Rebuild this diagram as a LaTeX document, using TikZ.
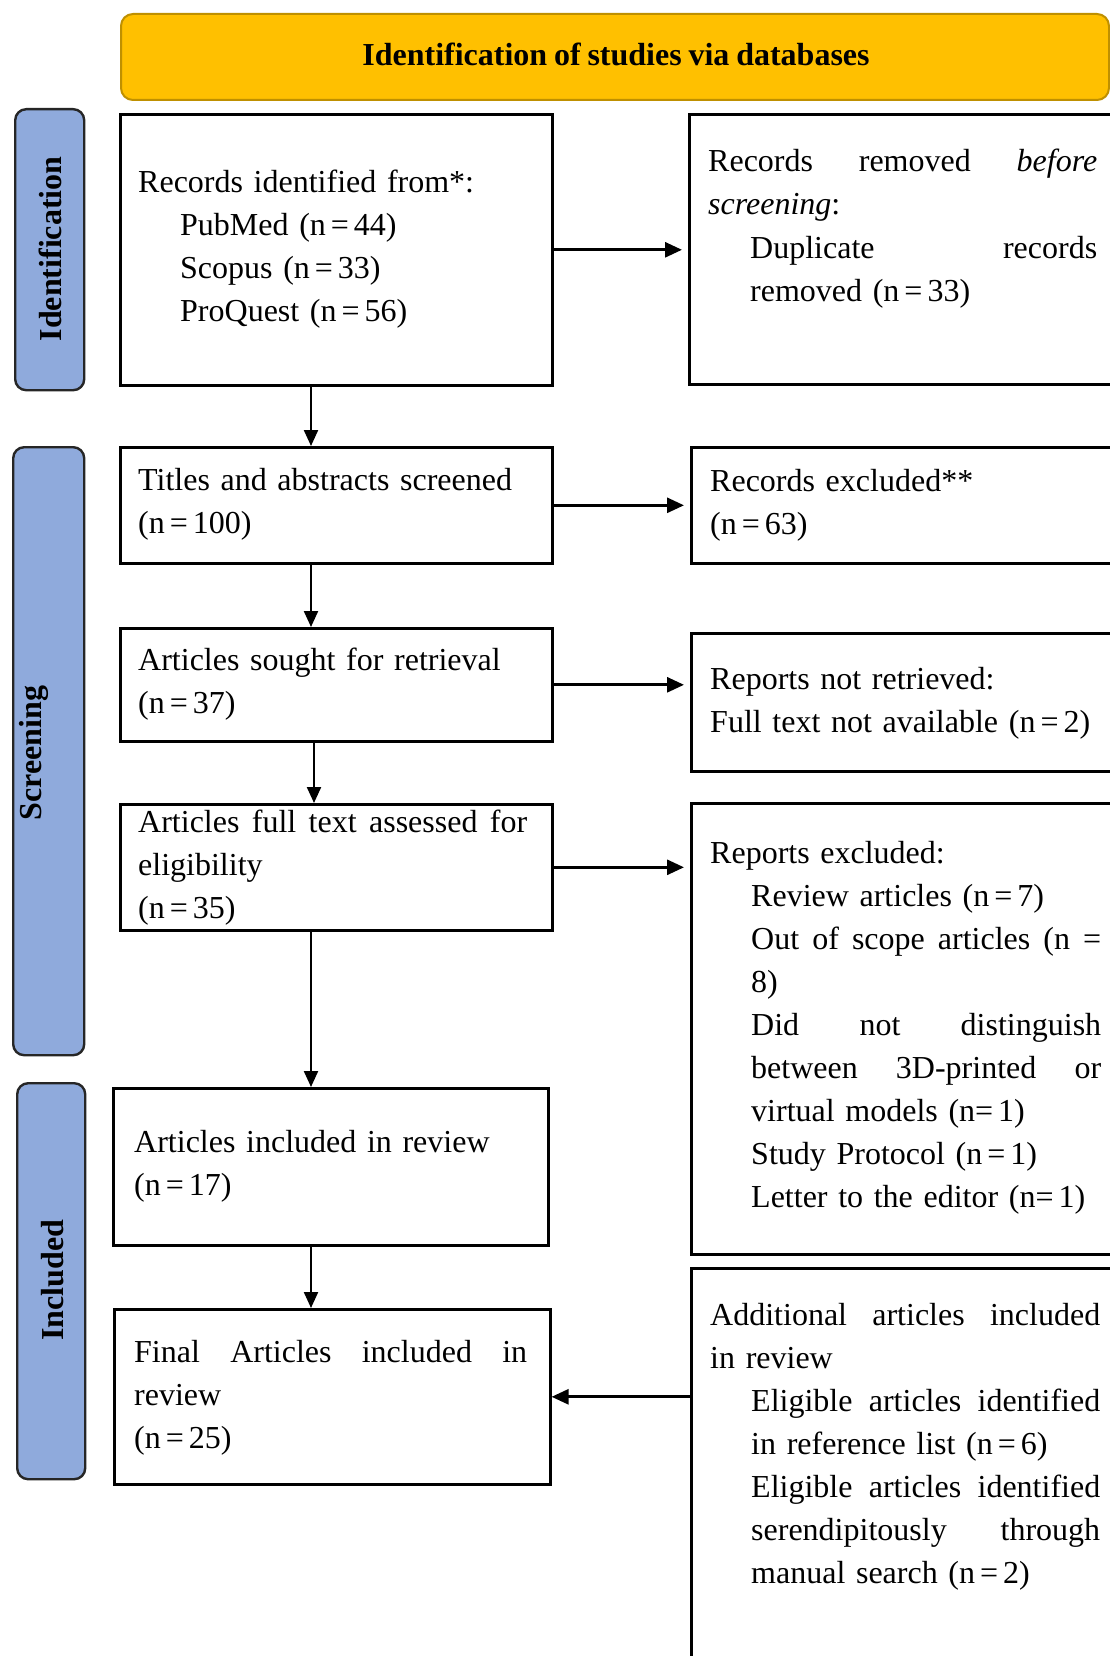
\documentclass[tikz,border=0pt]{standalone}
\usepackage{fontspec}
\setmainfont{Liberation Serif}[WordSpace=0.85]
\usetikzlibrary{arrows.meta}
\definecolor{hdrfill}{HTML}{FFC000}
\definecolor{hdrline}{HTML}{BF9000}
\definecolor{labfill}{HTML}{8FAADC}
\newcommand{\myeq}{\hspace{5pt}=\hspace{5pt}}
\tikzset{
  box/.style={draw=black, line width=2.6pt, fill=white, rectangle, inner sep=0pt, anchor=north west},
  lab/.style={draw=black!85, line width=2.4pt, fill=labfill, rounded corners=11pt, rectangle, inner sep=0pt, anchor=north west},
  hdr/.style={draw=hdrline, line width=2pt, fill=hdrfill, rounded corners=12pt, rectangle, inner sep=0pt, anchor=north west},
  txt/.style={anchor=base west, inner sep=0pt, align=left, text width=400pt, font=\fontsize{32}{43}\selectfont},
  labtxt/.style={rotate=90, anchor=base, inner sep=0pt, font=\bfseries\fontsize{32}{38}\selectfont},
  varr/.style={line width=2.2pt, -{Triangle[length=16pt,width=14pt]}},
  harr/.style={line width=2.8pt, -{Triangle[length=17pt,width=15pt]}}
}
\begin{document}
\begin{tikzpicture}[x=1pt,y=-1pt]
\path[use as bounding box] (0,0) rectangle (1110,1656);
\clip (0,0) rectangle (1110,1656);
\fill[white] (0,0) rectangle (1110,1656);

% header
\node[hdr, minimum width=988pt, minimum height=86pt] (hdr) at (120,13) {};
\node[anchor=base, inner sep=0pt, font=\bfseries\fontsize{32}{38}\selectfont] (hdrtxt) at (616,66) {Identification of studies via databases};

% stage labels
\node[lab, minimum width=69pt, minimum height=281pt] (L1) at (14,108) {};
\node[lab, minimum width=71pt, minimum height=608pt] (L2) at (12,446) {};
\node[lab, minimum width=68pt, minimum height=396pt] (L3) at (16,1082) {};
\node[labtxt] (L1t) at (61,249) {Identification};
\node[labtxt] (L2t) at (41,753) {Screening};
\node[labtxt] (L3t) at (63,1280) {Included};

% boxes
\node[box, minimum width=432pt, minimum height=271pt] (b1) at (119,113) {};
\node[box, minimum width=440pt, minimum height=270pt] (r1) at (688,113) {};
\node[box, minimum width=432pt, minimum height=116pt] (b2) at (119,446) {};
\node[box, minimum width=440pt, minimum height=116pt] (r2) at (690,446) {};
\node[box, minimum width=432pt, minimum height=113pt] (b3) at (119,627) {};
\node[box, minimum width=440pt, minimum height=138pt] (r3) at (690,632) {};
\node[box, minimum width=432pt, minimum height=126pt] (b4) at (119,803) {};
\node[box, minimum width=440pt, minimum height=451pt] (r4) at (690,802) {};
\node[box, minimum width=435pt, minimum height=157pt] (b5) at (112,1087) {};
\node[box, minimum width=436pt, minimum height=175pt] (b6) at (113,1308) {};
\node[box, minimum width=440pt, minimum height=410pt] (r6) at (690,1267) {};

% texts
\node[txt] (t1) at (138,193) {Records identified from*:\\
\hspace*{42pt}PubMed (n\myeq 44)\\
\hspace*{42pt}Scopus (n\myeq 33)\\
\hspace*{42pt}ProQuest (n\myeq 56)};
\node[txt, text width=389pt] (tr1) at (708,172) {Records\hfill removed\hfill \emph{before}\\
\emph{screening}:\\
\hspace*{42pt}Duplicate\hfill records\\
\hspace*{42pt}removed (n\myeq 33)};
\node[txt] (t2) at (138,490) {Titles and abstracts screened\\(n\myeq 100)};
\node[txt] (tr2) at (710,491) {Records excluded**\\(n\myeq 63)};
\node[txt] (t3) at (138,670) {Articles sought for retrieval\\(n\myeq 37)};
\node[txt] (tr3) at (710,689) {Reports not retrieved:\\Full text not available (n\myeq 2)};
\node[txt, text width=389pt] (t4) at (138,832) {Articles\hfill full\hfill text\hfill assessed\hfill for\\eligibility\\(n\myeq 35)};
\node[txt, text width=391pt] (tr4) at (710,863) {Reports excluded:\\
\hspace*{41pt}Review articles (n\myeq 7)\\
\hspace*{41pt}Out\hfill of\hfill scope\hfill articles\hfill (n\hfill =\\
\hspace*{41pt}8)\\
\hspace*{41pt}Did\hfill not\hfill distinguish\\
\hspace*{41pt}between\hfill 3D-printed\hfill or\\
\hspace*{41pt}virtual models (n=\hspace{5pt}1)\\
\hspace*{41pt}Study Protocol (n\myeq 1)\\
\hspace*{41pt}Letter to the editor (n=\hspace{5pt}1)};
\node[txt] (t5) at (134,1152) {Articles included in review\\(n\myeq 17)};
\node[txt, text width=393pt] (t6) at (134,1362) {Final\hfill Articles\hfill included\hfill in\\review\\(n\myeq 25)};
\node[txt, text width=390pt] (tr6) at (710,1325) {Additional\hfill articles\hfill included\\
in review\\
\hspace*{41pt}Eligible\hfill articles\hfill identified\\
\hspace*{41pt}in reference list (n\myeq 6)\\
\hspace*{41pt}Eligible\hfill articles\hfill identified\\
\hspace*{41pt}serendipitously\hfill through\\
\hspace*{41pt}manual search (n\myeq 2)};

% connectors
\coordinate (ax) at (311,0);
\coordinate (ax2) at (314,0);
\draw[varr] (b1.south -| ax) -- (b2.north -| ax);
\draw[varr] (b2.south -| ax) -- (b3.north -| ax);
\draw[varr] (b3.south -| ax2) -- (b4.north -| ax2);
\draw[varr] (b4.south -| ax) -- (b5.north -| ax);
\draw[varr] (b5.south -| ax) -- (b6.north -| ax);
\draw[harr, shorten >=6pt] (b1.east) -- (r1.west |- b1.east);
\draw[harr, shorten >=6pt] (b2.east) -- (r2.west |- b2.east);
\draw[harr, shorten >=6pt] (b3.east) -- (r3.west |- b3.east);
\draw[harr, shorten >=6pt] (b4.east) -- (r4.west |- b4.east);
\draw[harr] (r6.west |- b6.east) -- (b6.east);
\end{tikzpicture}
\end{document}
